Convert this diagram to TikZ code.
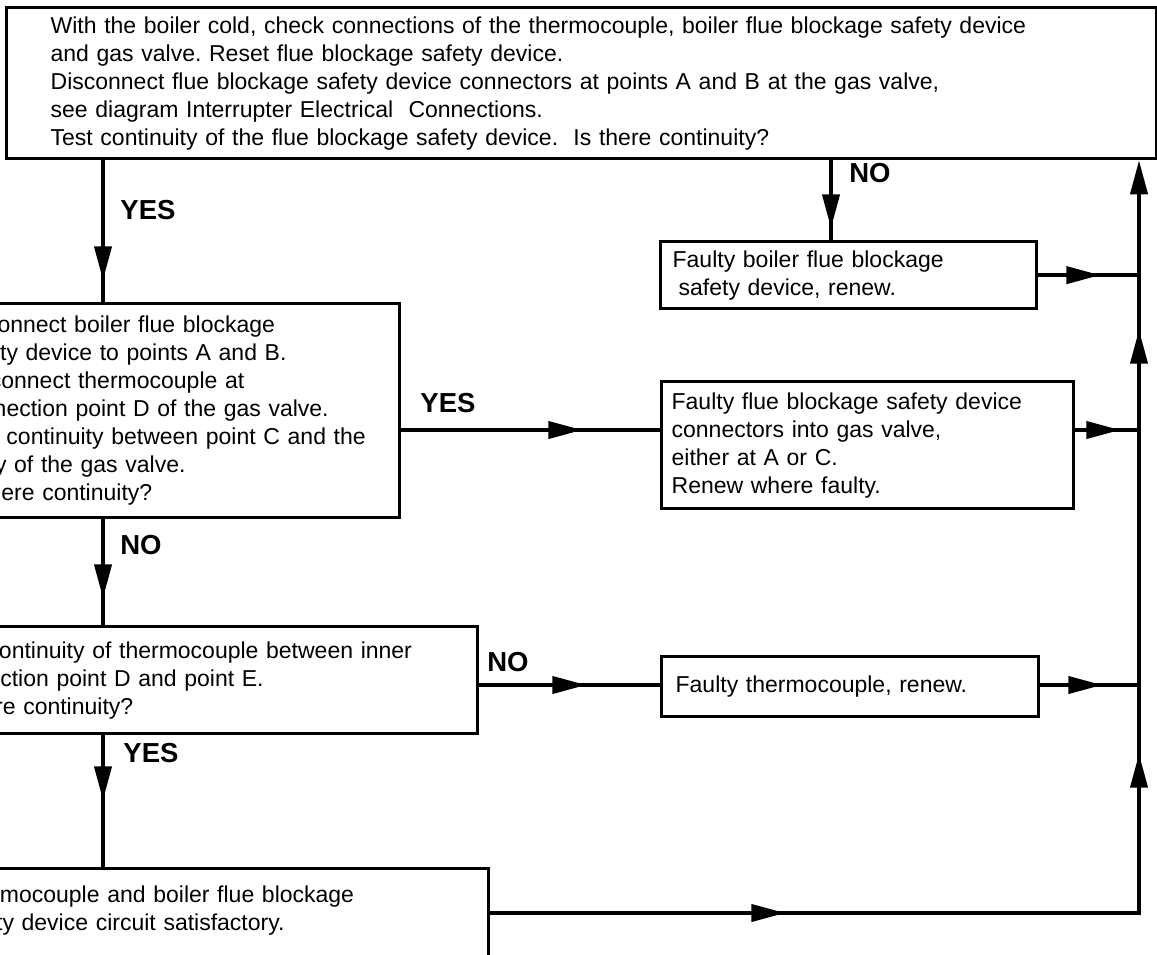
\documentclass[tikz,border=0pt]{standalone}
\usepackage{fontspec}
\setmainfont{Liberation Sans}
\frenchspacing
\usetikzlibrary{arrows.meta,decorations.markings}
\begin{document}
\begin{tikzpicture}[x=1pt,y=-1pt,>={Triangle[length=34pt,width=17pt]},
	box/.style={draw,line width=3.3pt,rectangle,anchor=north west,align=left,
		inner xsep=12pt,inner ysep=0pt,font=\fontsize{23}{28}\selectfont},
	lbl/.style={font=\fontsize{27.5}{30}\selectfont\bfseries},
	conn/.style={line width=4pt},
	midtip/.style={postaction={decorate,decoration={markings,
		mark=at position #1 with {\arrow{>}}}}}]

	\useasboundingbox (0,0) rectangle (1157,955);

	\node[box,inner xsep=44pt,text width=1062pt,minimum height=151pt] (top) at (5,6)
		{With the boiler cold, check connections of the thermocouple, boiler flue blockage safety device\\
		and gas valve. Reset flue blockage safety device.\\
		Disconnect flue blockage safety device connectors at points A and B at the gas valve,\\
		see diagram Interrupter Electrical\ \ Connections.\\
		Test continuity of the flue blockage safety device.\ \ Is there continuity?};
	\node[box,text width=431pt,minimum height=214pt] (reconnect) at (-57,302)
		{Reconnect boiler flue blockage\\
		safety device to points A and B.\\
		Disconnect thermocouple at\\
		connection point D of the gas valve.\\
		Test continuity between point C and the\\
		body of the gas valve.\\
		Is there continuity?};
	\node[box,text width=528pt,minimum height=107pt] (testtc) at (-76,625)
		{Test continuity of thermocouple between inner\\
		connection point D and point E.\\
		Is there continuity?};
	\node[box,text width=524pt,inner ysep=17pt] (okay) at (-61,867)
		{Thermocouple and boiler flue blockage\\
		safety device circuit satisfactory.\rule[-70pt]{0pt}{70pt}};
	\node[box,text width=352pt,minimum height=67pt] (renewdev) at (659,240)
		{Faulty boiler flue blockage\\
		\hspace*{6pt}safety device, renew.};
	\node[box,inner xsep=10pt,text width=392pt,minimum height=127pt] (renewconn) at (660,380)
		{Faulty flue blockage safety device\\
		connectors into gas valve,\\
		either at A or C.\\
		Renew where faulty.};
	\node[box,inner xsep=14pt,text width=349pt,minimum height=60pt] (renewtc) at (660,655)
		{Faulty thermocouple, renew.};

	\node[lbl] (yes1) at (148,210) {YES};
	\node[lbl] (no1) at (870,173) {NO};
	\node[lbl] (yes2) at (448,403) {YES};
	\node[lbl] (no2) at (141,545) {NO};
	\node[lbl] (no3) at (508,662) {NO};
	\node[lbl] (yes3) at (151,753) {YES};

	\coordinate (xl) at (103,0); \coordinate (xn) at (831,0);
	\coordinate (xr) at (1139,0); \coordinate (ya) at (0,430);
	\coordinate (yb) at (0,685); \coordinate (yc) at (0,913);

	\draw[conn,midtip=120pt] (top.south -| xl) -- (reconnect.north -| xl);
	\draw[conn,midtip=68pt] (top.south -| xn) -- (renewdev.north -| xn);
	\draw[conn,midtip=181pt] (reconnect.east |- ya) -- (renewconn.west |- ya);
	\draw[conn,midtip=79pt] (reconnect.south -| xl) -- (testtc.north -| xl);
	\draw[conn,midtip=107pt] (testtc.east |- yb) -- (renewtc.west |- yb);
	\draw[conn,midtip=65pt] (testtc.south -| xl) -- (okay.north -| xl);

	\draw[conn,midtip=62pt] (renewdev.east) -- (renewdev.east -| xr);
	\draw[conn,midtip=45pt] (renewconn.east |- ya) -- (ya -| xr);
	\draw[conn,midtip=62pt] (renewtc.east |- yb) -- (yb -| xr);
	\draw[conn,->,midtip=295pt,midtip=808pt,midtip=1232pt]
		(okay.east |- yc) -- (yc -| xr) -- (top.south -| xr);
\end{tikzpicture}
\end{document}
